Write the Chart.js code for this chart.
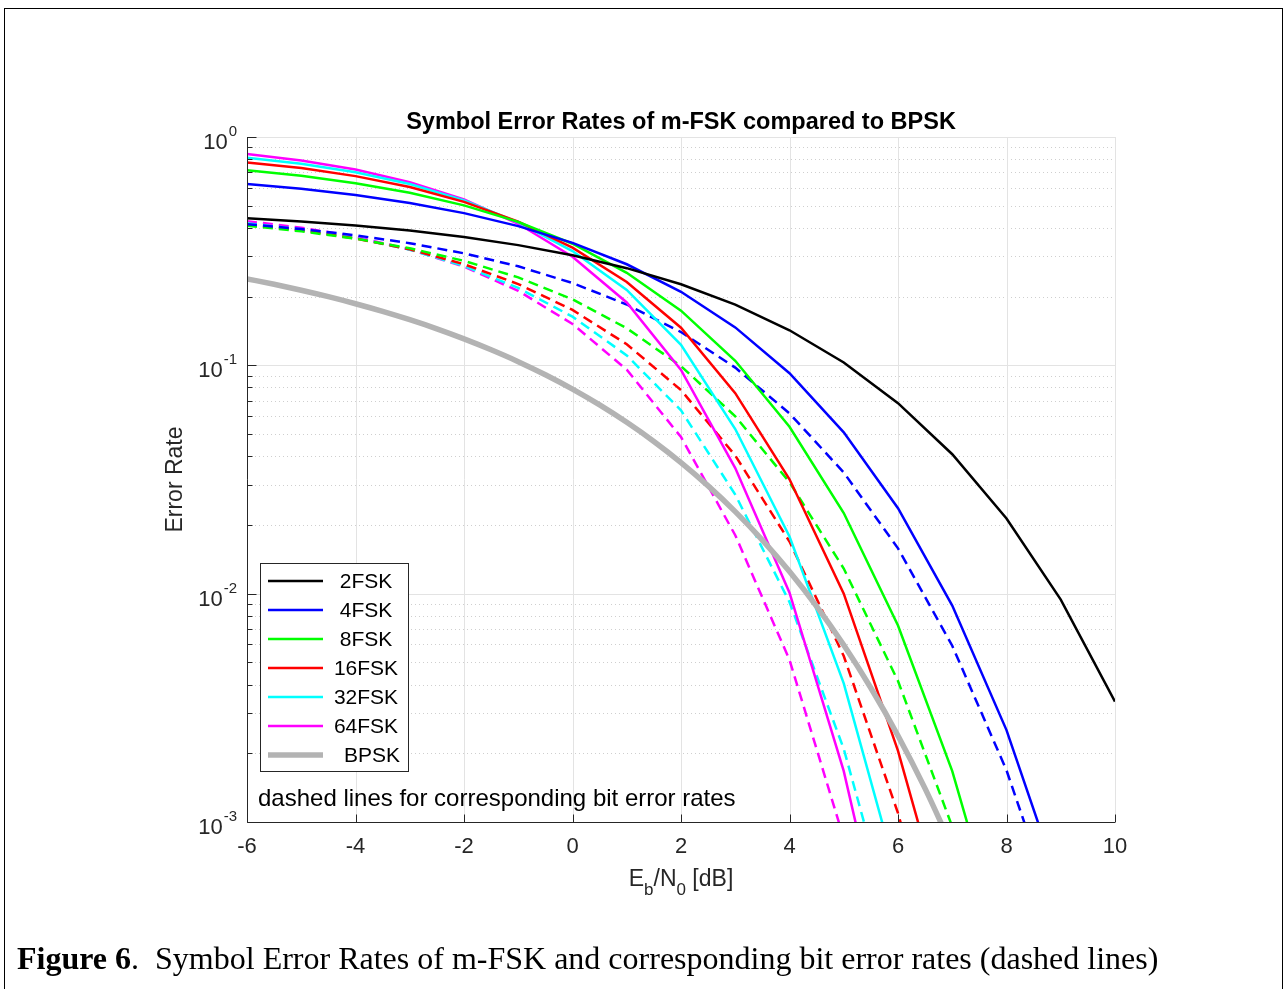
<!DOCTYPE html>
<html>
<head>
<meta charset="utf-8">
<script src="https://cdn.jsdelivr.net/npm/chart.js@4.4.1/dist/chart.umd.min.js"></script>
<style>
html, body { margin: 0; padding: 0; background: #fff; }
body { width: 1287px; height: 989px; position: relative; overflow: hidden; }
#marco { position: absolute; left: 4px; top: 8px; width: 1279px; height: 1000px; border: 1px solid #000; box-sizing: border-box; }
#grafica { position: absolute; left: 0; top: 0; }
#pie { position: absolute; left: 17px; top: 940px; font-family: "Liberation Serif", "Times New Roman", serif; font-size: 32px; color: #000; white-space: nowrap; }
</style>
</head>
<body>
<div id="marco"></div>
<canvas id="grafica" width="1287" height="989"></canvas>
<div id="pie"><b>Figure 6</b>.&nbsp; Symbol Error Rates of m-FSK and corresponding bit error rates (dashed lines)</div>

<script>
// Eb/N0 en dB (curvas m-FSK)
const ebno = [-6, -5, -4, -3, -2, -1, 0, 1, 2, 3, 4, 5, 6, 7, 8, 9, 10];

// tasa de error de simbolo (solidas)
const ser2  = [0.4410, 0.4269, 0.4097, 0.3892, 0.3647, 0.3361, 0.3033, 0.2664, 0.2264, 0.1844, 0.1424, 0.1029, 0.0683, 0.0408, 0.02133, 0.00942, 0.003369];
const ser4  = [0.6230, 0.5930, 0.5569, 0.5140, 0.4641, 0.4071, 0.3440, 0.2771, 0.2099, 0.1466, 0.09237, 0.05091, 0.02368, 0.008871, 0.002526, 0.0005091];
const ser8  = [0.7155, 0.6759, 0.6277, 0.5698, 0.5019, 0.4247, 0.3408, 0.2543, 0.1736, 0.1047, 0.05383, 0.02254, 0.00725, 0.00167, 0.000253];
const ser16 = [0.774, 0.731, 0.674, 0.604, 0.520, 0.4257, 0.3277, 0.2319, 0.1461, 0.0755, 0.0317, 0.0100, 0.00205, 0.000293];
const ser32 = [0.811, 0.764, 0.701, 0.622, 0.528, 0.4228, 0.3166, 0.2140, 0.1230, 0.0526, 0.0178, 0.00405, 0.00056];
const ser64 = [0.842, 0.789, 0.720, 0.6336, 0.5329, 0.4170, 0.2988, 0.1885, 0.0955, 0.0355, 0.0101, 0.00167, 0.000156];

// tasa de error de bit (punteadas)
const ber4  = [0.4153, 0.3953, 0.3713, 0.3427, 0.3094, 0.2714, 0.2293, 0.1847, 0.1399, 0.09773, 0.06158, 0.03394, 0.01579, 0.005914, 0.001684, 0.0003394];
const ber8  = [0.4089, 0.3862, 0.3587, 0.3256, 0.2868, 0.2427, 0.1947, 0.1453, 0.0992, 0.05983, 0.03076, 0.01288, 0.004143, 0.000954, 0.0001446];
const ber16 = [0.4128, 0.3899, 0.3595, 0.3221, 0.2773, 0.2270, 0.1748, 0.1237, 0.07792, 0.04027, 0.01691, 0.005333, 0.001093, 0.0001563];
const ber32 = [0.4186, 0.3943, 0.3618, 0.3210, 0.2725, 0.2182, 0.1634, 0.1105, 0.06348, 0.02715, 0.009187, 0.00209, 0.000289];
const ber64 = [0.4277, 0.4008, 0.3657, 0.3218, 0.2707, 0.2118, 0.1518, 0.09575, 0.04851, 0.01803, 0.00513, 0.000848];

// BPSK, paso de 0.5 dB
const ebnoBpsk = [-6, -5.5, -5, -4.5, -4, -3.5, -3, -2.5, -2, -1.5, -1, -0.5, 0, 0.5, 1, 1.5, 2, 2.5, 3, 3.5, 4, 4.5, 5, 5.5, 6, 6.5, 7];
const bpsk = [0.2392, 0.2264, 0.2132, 0.1998, 0.1861, 0.1723, 0.1584, 0.1445, 0.1306, 0.1170, 0.1038, 0.0909, 0.07865, 0.06707, 0.05628, 0.04641, 0.03751, 0.02966, 0.02288, 0.01717, 0.01250, 0.008795, 0.005954, 0.003862, 0.002388, 0.001400, 0.0007727];

// ejes
const ticksX = [-6, -4, -2, 0, 2, 4, 6, 8, 10];
const decadas = [0.001, 0.01, 0.1, 1];
const exponentes = ['-3', '-2', '-1', '0'];

const GRIS_EJE = '#262626';
const FUENTE = '"Liberation Sans", Arial, Helvetica, sans-serif';

function puntos(xs, ys) {
    return ys.map((v, i) => ({ x: xs[i], y: v }));
}

function serie(nombre, ys, color, punteada, xs = ebno) {
    return {
        label: nombre,
        data: puntos(xs, ys),
        borderColor: color,
        borderWidth: 2.5,
        borderDash: punteada ? [10, 6] : [],
        order: punteada ? 2 : 1
    };
}

const entradasLeyenda = [
    { texto: '2FSK', color: '#000000', ancho: 2.5, dx: 0 },
    { texto: '4FSK', color: '#0000ff', ancho: 2.5, dx: 0 },
    { texto: '8FSK', color: '#00ff00', ancho: 2.5, dx: 0 },
    { texto: '16FSK', color: '#ff0000', ancho: 2.5, dx: 0 },
    { texto: '32FSK', color: '#00ffff', ancho: 2.5, dx: 0 },
    { texto: '64FSK', color: '#ff00ff', ancho: 2.5, dx: 0 },
    { texto: 'BPSK', color: '#b3b3b3', ancho: 5.5, dx: 6 }
];

function linea(ctx, x1, y1, x2, y2) {
    ctx.beginPath();
    ctx.moveTo(x1, y1);
    ctx.lineTo(x2, y2);
    ctx.stroke();
}

// rejilla, ejes, textos y leyenda
const pluginEjes = {
    id: 'ejes',
    beforeDatasetsDraw(chart) {
        const { ctx, chartArea: a, scales: { x, y } } = chart;
        ctx.save();
        ctx.lineWidth = 1;

        // rejilla menor punteada
        ctx.strokeStyle = '#cfcfcf';
        ctx.setLineDash([1, 3]);
        decadas.slice(0, -1).forEach(d => {
            for (let m = 2; m <= 9; m++) {
                const py = Math.round(y.getPixelForValue(d * m)) + 0.5;
                linea(ctx, a.left, py, a.right, py);
            }
        });
        ctx.setLineDash([]);

        // rejilla mayor
        ctx.strokeStyle = '#e3e3e3';
        decadas.forEach(d => {
            const py = Math.round(y.getPixelForValue(d)) + 0.5;
            linea(ctx, a.left, py, a.right, py);
        });
        ticksX.forEach(t => {
            const px = Math.round(x.getPixelForValue(t)) + 0.5;
            linea(ctx, px, a.top, px, a.bottom);
        });
        ctx.restore();
    },
    afterDatasetsDraw(chart) {
        const { ctx, chartArea: a, scales: { x, y } } = chart;
        ctx.save();
        const izq = Math.round(a.left) + 0.5;
        const abajo = Math.round(a.bottom) + 0.5;

        // lineas de eje
        ctx.strokeStyle = GRIS_EJE;
        ctx.lineWidth = 1;
        linea(ctx, izq, a.top, izq, abajo);
        linea(ctx, izq, abajo, a.right, abajo);

        // marcas eje y
        decadas.forEach((d, k) => {
            const py = Math.round(y.getPixelForValue(d)) + 0.5;
            linea(ctx, izq, py, izq + 9, py);
            if (k < decadas.length - 1) {
                for (let m = 2; m <= 9; m++) {
                    const pm = Math.round(y.getPixelForValue(d * m)) + 0.5;
                    linea(ctx, izq, pm, izq + 5, pm);
                }
            }
        });
        // marcas eje x
        ticksX.forEach(t => {
            const px = Math.round(x.getPixelForValue(t)) + 0.5;
            linea(ctx, px, abajo, px, abajo - 8);
        });

        // etiquetas y: 10^n
        ctx.fillStyle = GRIS_EJE;
        ctx.textBaseline = 'middle';
        decadas.forEach((d, k) => {
            const py = y.getPixelForValue(d);
            ctx.font = '15px ' + FUENTE;
            const wSup = ctx.measureText(exponentes[k]).width;
            const fin = a.left - 10;
            ctx.textAlign = 'left';
            ctx.fillText(exponentes[k], fin - wSup, py - 5);
            ctx.font = '22px ' + FUENTE;
            ctx.textAlign = 'right';
            ctx.fillText('10', fin - wSup - 1, py + 6);
        });

        // etiquetas x
        ctx.font = '22px ' + FUENTE;
        ctx.textAlign = 'center';
        ticksX.forEach(t => {
            ctx.fillText(String(t), x.getPixelForValue(t), a.bottom + 25);
        });

        // titulo eje x con subindices
        const partes = [
            { t: 'E', sub: false }, { t: 'b', sub: true }, { t: '/N', sub: false },
            { t: '0', sub: true }, { t: ' [dB]', sub: false }
        ];
        let total = 0;
        partes.forEach(p => {
            ctx.font = (p.sub ? '17px ' : '23px ') + FUENTE;
            p.w = ctx.measureText(p.t).width;
            total += p.w;
        });
        let cx = (a.left + a.right) / 2 - total / 2;
        ctx.textAlign = 'left';
        partes.forEach(p => {
            ctx.font = (p.sub ? '17px ' : '23px ') + FUENTE;
            ctx.fillText(p.t, cx, p.sub ? 890 : 880);
            cx += p.w;
        });

        // titulo eje y
        ctx.save();
        ctx.translate(176, (a.top + a.bottom) / 2);
        ctx.rotate(-Math.PI / 2);
        ctx.font = '23px ' + FUENTE;
        ctx.textAlign = 'center';
        ctx.fillText('Error Rate', 0, 0);
        ctx.restore();

        // titulo
        ctx.fillStyle = '#000';
        ctx.font = 'bold 23.5px ' + FUENTE;
        ctx.textAlign = 'center';
        ctx.fillText('Symbol Error Rates of m-FSK compared to BPSK', (a.left + a.right) / 2, a.top - 14);

        // leyenda
        const lx = a.left + 13, ly = a.top + 426, lw = 148, lh = 208;
        ctx.fillStyle = '#fff';
        ctx.fillRect(lx, ly, lw, lh);
        ctx.strokeStyle = GRIS_EJE;
        ctx.lineWidth = 1;
        ctx.strokeRect(lx + 0.5, ly + 0.5, lw, lh);
        ctx.font = '21px ' + FUENTE;
        ctx.textAlign = 'center';
        entradasLeyenda.forEach((e, i) => {
            const ry = ly + 18 + i * 29;
            ctx.strokeStyle = e.color;
            ctx.lineWidth = e.ancho;
            linea(ctx, lx + 8, ry, lx + 63, ry);
            ctx.fillStyle = '#000';
            ctx.fillText(e.texto, lx + 106 + e.dx, ry + 1);
        });

        // nota
        ctx.font = '24px ' + FUENTE;
        ctx.textAlign = 'left';
        ctx.fillStyle = '#000';
        ctx.fillText('dashed lines for corresponding bit error rates', a.left + 11, a.bottom - 23);
        ctx.restore();
    }
};

new Chart(document.getElementById('grafica'), {
    type: 'line',
    data: {
        datasets: [
            serie('2FSK', ser2, '#000000', false),
            serie('4FSK', ser4, '#0000ff', false),
            serie('8FSK', ser8, '#00ff00', false),
            serie('16FSK', ser16, '#ff0000', false),
            serie('32FSK', ser32, '#00ffff', false),
            serie('64FSK', ser64, '#ff00ff', false),
            serie('4FSK BER', ber4, '#0000ff', true),
            serie('8FSK BER', ber8, '#00ff00', true),
            serie('16FSK BER', ber16, '#ff0000', true),
            serie('32FSK BER', ber32, '#00ffff', true),
            serie('64FSK BER', ber64, '#ff00ff', true),
            { label: 'BPSK', data: puntos(ebnoBpsk, bpsk), borderColor: '#b3b3b3', borderWidth: 5.5, cubicInterpolationMode: 'monotone', order: 0 }
        ]
    },
    options: {
        responsive: false,
        animation: false,
        devicePixelRatio: 1,
        layout: { padding: { left: 247, top: 137, right: 172, bottom: 167 } },
        elements: { point: { radius: 0 }, line: { tension: 0, fill: false } },
        scales: {
            x: { type: 'linear', min: -6, max: 10, display: false },
            y: { type: 'logarithmic', min: 0.001, max: 1, display: false }
        },
        plugins: { legend: { display: false }, tooltip: { enabled: false } }
    },
    plugins: [pluginEjes]
});
</script>
</body>
</html>
